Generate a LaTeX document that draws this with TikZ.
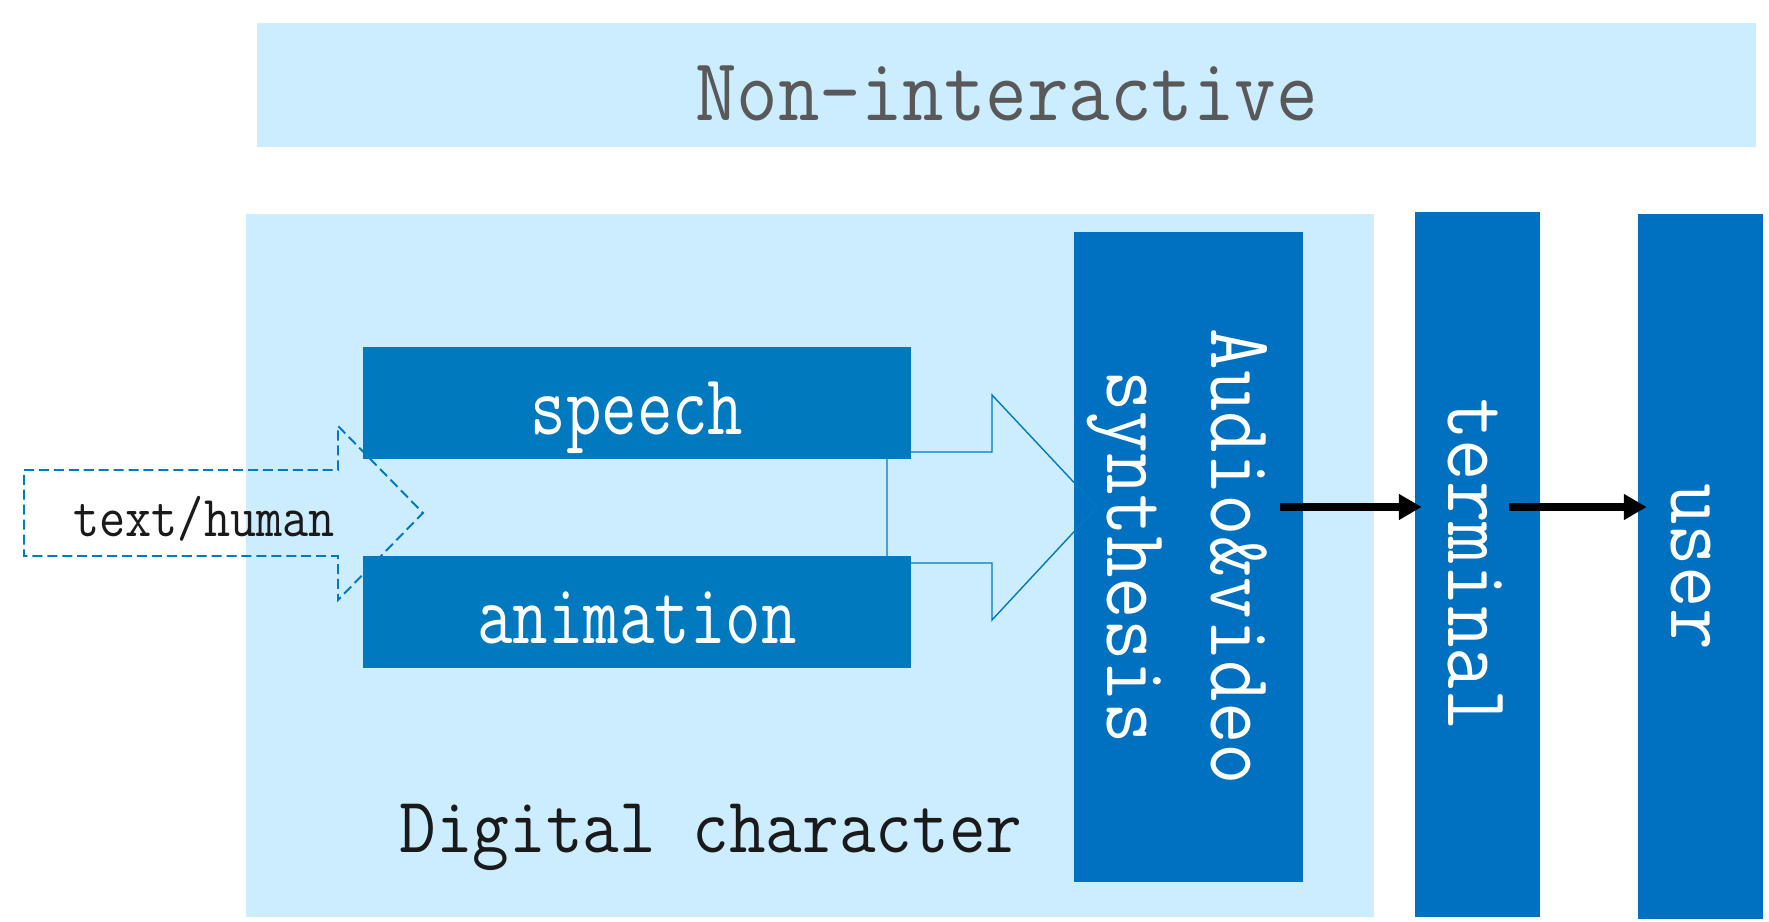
\documentclass[tikz,border=0pt]{standalone}
\usepackage{tikz}
\usetikzlibrary{positioning,arrows.meta}
\definecolor{paleblue}{RGB}{204,236,255}
\definecolor{blockblue}{RGB}{0,121,191}
\definecolor{columnblue}{RGB}{0,112,192}
\definecolor{titlegray}{RGB}{89,89,89}
\definecolor{inkblack}{RGB}{26,26,26}
\newcommand{\narrowed}[2]{\scalebox{#1}[1]{#2}}

\begin{document}
\begin{tikzpicture}[x=0.02cm,y=0.02cm,font=\ttfamily]
\tikzstyle{pale box}=[fill=paleblue,inner sep=0]
\tikzstyle{block}=[fill=blockblue,text=white,inner sep=0,minimum width=10.96cm,minimum height=2.24cm,text height=1.28cm,text depth=0pt,font=\ttfamily\fontsize{49}{59}\selectfont]
\tikzstyle{column}=[fill=columnblue,text=white,inner sep=0,rotate=-90,align=center,font=\ttfamily\fontsize{51}{59.2}\selectfont]
\tikzstyle{flow}=[line width=4pt,-{Triangle[length=13pt,width=14pt]}]
\tikzstyle{outline}=[draw=blockblue,line width=0.8pt]
\useasboundingbox (0,0) rectangle (1769,922);
\node(nonint)[pale box,minimum width=29.98cm,minimum height=2.48cm,text height=1.44cm,text depth=0pt,text=titlegray,font=\ttfamily\fontsize{51}{61}\selectfont] at (1006.5,837){\narrowed{0.9}{Non-interactive}};
\node(digital)[pale box,minimum width=22.56cm,minimum height=14.06cm] at (810,356.5){};
\node(audio)[column,minimum width=13cm,minimum height=4.58cm,text height=3.26cm,text depth=0pt] at (1188.5,365){\narrowed{0.9}{Audio\&video}\\\narrowed{0.9}{synthesis}};
\draw[outline] (887,470) -- (992,470) -- (992,527) -- (1097,415) -- (992,302) -- (992,359) -- (887,359) -- cycle;
\draw[outline,line width=1.1pt,dash pattern=on 5.7pt off 2.8pt] (24,452) -- (338,452) -- (338,496) -- (423,409) -- (338,322) -- (338,366) -- (24,366) -- cycle;
\node(speech)[block] at (637,519){\narrowed{0.8}{speech}};
\node(animation)[block] at (637,310){\narrowed{0.8}{animation}};
\node(input)[anchor=base,text=inkblack,font=\ttfamily\fontsize{33}{40}\selectfont] at (204,385){\narrowed{0.875}{text/human}};
\node(dclabel)[anchor=base,text=inkblack,font=\ttfamily\fontsize{45}{54}\selectfont] at (711,69){\narrowed{0.9}{Digital character}};
\node(terminal)[column,minimum width=14.1cm,minimum height=2.5cm,text height=1.18cm,text depth=0pt] at (1477.5,357.5){\narrowed{0.9}{terminal}};
\node(user)[column,minimum width=14.1cm,minimum height=2.5cm,text height=1.18cm,text depth=0pt] at (1700.5,355.5){\narrowed{0.9}{user}};
\coordinate(avout) at (1280,415);
\coordinate(termout) at (1509,415);
\draw[flow,shorten >=-0.14cm] (avout) -- (terminal.south |- avout);
\draw[flow,shorten >=-0.18cm] (termout) -- (user.south |- termout);
\end{tikzpicture}
\end{document}
